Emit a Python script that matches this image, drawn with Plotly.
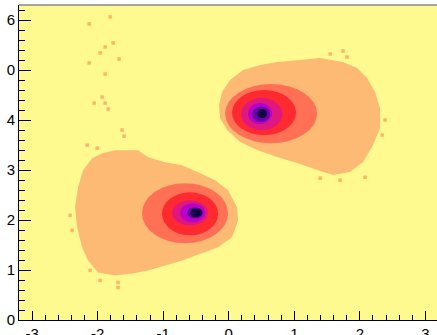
import plotly.graph_objects as go

# ---- data ----
# outer (lowest contour) region of the upper blob: boundary vertices
upper_outer_x = [-0.148, -0.102, 0.020, 0.218, 0.477, 0.737, 1.088, 1.393, 1.744, 1.957, 2.110, 2.232,
                 2.309, 2.309, 2.202, 2.050, 1.851, 1.592, 1.347, 1.042, 0.737, 0.432, 0.172, -0.026, -0.133]
upper_outer_y = [4.30, 4.56, 4.80, 5.00, 5.10, 5.16, 5.20, 5.24, 5.16, 5.04, 4.84, 4.56,
                 4.24, 3.84, 3.50, 3.16, 2.96, 2.90, 3.00, 3.14, 3.26, 3.40, 3.56, 3.80, 4.04]

# outer region of the lower blob
lower_outer_x = [-1.933, -1.734, -1.384, -1.231, -0.972, -0.712, -0.468, -0.209, -0.011, 0.127, 0.142,
                 0.050, -0.163, -0.407, -0.712, -0.972, -1.231, -1.475, -1.734, -1.994, -2.147, -2.238,
                 -2.314, -2.345, -2.299, -2.223, -2.085]
lower_outer_y = [3.337, 3.397, 3.397, 3.257, 3.156, 3.096, 2.956, 2.796, 2.595, 2.255, 1.994,
                 1.653, 1.453, 1.333, 1.192, 1.092, 0.992, 0.932, 0.892, 0.952, 1.192, 1.453,
                 1.854, 2.255, 2.655, 2.996, 3.236]

# inner contour levels (salmon, red, crimson, magenta, purple, navy): extents
upper_x0 = [-0.056, 0.050, 0.188, 0.294, 0.351, 0.432]
upper_x1 = [1.347, 1.027, 0.818, 0.660, 0.631, 0.584]
upper_y0 = [3.537, 3.697, 3.798, 3.918, 3.958, 4.038]
upper_y1 = [4.719, 4.599, 4.439, 4.339, 4.269, 4.218]

lower_x0 = [-1.323, -1.018, -0.865, -0.743, -0.636, -0.590]
lower_x1 = [-0.011, -0.163, -0.316, -0.362, -0.392, -0.407]
lower_y0 = [1.533, 1.693, 1.894, 1.954, 2.034, 2.054]
lower_y1 = [2.735, 2.555, 2.395, 2.335, 2.255, 2.234]

# isolated low-content bins
stray_x = [-1.810, -2.130, -1.764, -1.886, -1.962, -1.674, -2.130, -1.886, -1.932, -2.054, -1.886,
           -1.840, -1.628, -1.597, 1.548, 1.744, 1.805, 2.384, 2.339, 1.393, 1.698, 2.080,
           -2.421, -2.391, -2.116, -1.963, -1.689, -1.689, -2.160, -2.009]
stray_y = [6.062, 5.922, 5.541, 5.461, 5.341, 5.220, 5.140, 4.920, 4.459, 4.339, 4.339,
           4.218, 3.798, 3.677, 5.32, 5.38, 5.26, 4.00, 3.70, 2.836, 2.796, 2.856,
           2.094, 1.794, 0.992, 0.792, 0.752, 0.651, 3.497, 3.437]

level_colors = ["#FFFA90", "#FDBA74", "#FF7055", "#FF2A30", "#E0187E", "#B800C8", "#6A00A8", "#140046"]

x_tickvals = [-3, -2, -1, 0, 1, 2, 3]
x_ticktext = ["-3", "-2", "-1", "0", "1", "2", "3"]
y_tickvals = [0, 1, 2, 3, 4, 5, 6]
y_ticktext = ["0", "1", "2", "3", "4", "0", "6"]

fig = go.Figure()

for xs, ys in [(upper_outer_x, upper_outer_y), (lower_outer_x, lower_outer_y)]:
    fig.add_trace(go.Scatter(x=xs + xs[:1], y=ys + ys[:1], mode="lines", fill="toself",
                             fillcolor=level_colors[1], line=dict(width=0, color=level_colors[1]),
                             hoverinfo="skip", showlegend=False))

fig.add_trace(go.Scatter(x=stray_x, y=stray_y, mode="markers",
                         marker=dict(symbol="square", size=3.5, color="#FDB46C", line=dict(width=0)),
                         hoverinfo="skip", showlegend=False))

shapes = []
for x0s, x1s, y0s, y1s in [(upper_x0, upper_x1, upper_y0, upper_y1),
                           (lower_x0, lower_x1, lower_y0, lower_y1)]:
    for i in range(len(x0s)):
        shapes.append(dict(type="circle", xref="x", yref="y", x0=x0s[i], x1=x1s[i],
                           y0=y0s[i], y1=y1s[i], fillcolor=level_colors[i + 2],
                           line=dict(width=0), layer="above"))
shapes.append(dict(type="line", xref="paper", yref="paper", x0=0, x1=1, y0=1, y1=1,
                   line=dict(color="#888888", width=1.5), layer="above"))

fig.update_layout(
    width=437, height=335,
    margin=dict(l=19, r=0, t=5, b=15, autoexpand=False),
    paper_bgcolor="white",
    plot_bgcolor=level_colors[0],
    font=dict(family="Liberation Sans, Arial, sans-serif", size=15, color="black"),
    shapes=shapes,
    showlegend=False,
)
fig.update_xaxes(range=[-3.2, 3.177], showgrid=False, zeroline=False, automargin=False,
                 showline=True, linecolor="black", linewidth=1,
                 tickmode="array", tickvals=x_tickvals, ticktext=x_ticktext,
                 ticks="inside", ticklen=9, tickcolor="black", tickwidth=1,
                 minor=dict(dtick=0.2, tick0=0, ticks="inside", ticklen=5, tickcolor="black", tickwidth=1))
fig.update_yaxes(range=[0, 6.3], showgrid=False, zeroline=False, automargin=False,
                 showline=True, linecolor="black", linewidth=1,
                 tickmode="array", tickvals=y_tickvals, ticktext=y_ticktext,
                 ticks="inside", ticklen=12, tickcolor="black", tickwidth=1,
                 minor=dict(dtick=0.2, tick0=0, ticks="inside", ticklen=6, tickcolor="black", tickwidth=1))

fig.write_html("out.html", config={"displayModeBar": False},
               post_script="document.body.style.margin='0';document.body.style.overflow='hidden';")
